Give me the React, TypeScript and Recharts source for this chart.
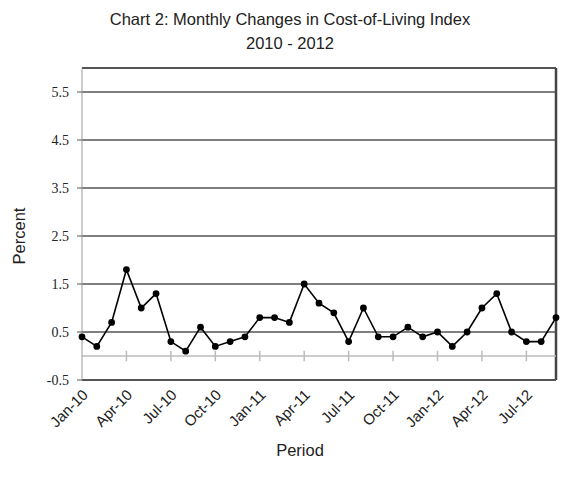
import { LineChart, Line, XAxis, YAxis, CartesianGrid, ReferenceLine } from 'recharts';

const months = [
  'Jan-10', 'Feb-10', 'Mar-10', 'Apr-10', 'May-10', 'Jun-10', 'Jul-10', 'Aug-10', 'Sep-10', 'Oct-10', 'Nov-10', 'Dec-10',
  'Jan-11', 'Feb-11', 'Mar-11', 'Apr-11', 'May-11', 'Jun-11', 'Jul-11', 'Aug-11', 'Sep-11', 'Oct-11', 'Nov-11', 'Dec-11',
  'Jan-12', 'Feb-12', 'Mar-12', 'Apr-12', 'May-12', 'Jun-12', 'Jul-12', 'Aug-12', 'Sep-12',
];

const changes = [
  0.4, 0.2, 0.7, 1.8, 1.0, 1.3, 0.3, 0.1, 0.6, 0.2, 0.3, 0.4,
  0.8, 0.8, 0.7, 1.5, 1.1, 0.9, 0.3, 1.0, 0.4, 0.4, 0.6, 0.4,
  0.5, 0.2, 0.5, 1.0, 1.3, 0.5, 0.3, 0.3, 0.8,
];

const yTicks = [-0.5, 0.5, 1.5, 2.5, 3.5, 4.5, 5.5];
const labelMonths = ['Jan-10', 'Apr-10', 'Jul-10', 'Oct-10', 'Jan-11', 'Apr-11', 'Jul-11', 'Oct-11', 'Jan-12', 'Apr-12', 'Jul-12'];

const data = months.map((m, i) => ({ month: m, value: changes[i] }));

const sans = '"Liberation Sans", Arial, sans-serif';

const XTick = (props: any) => {
  const { x, y, payload } = props;
  return (
    <text
      x={0}
      y={0}
      transform={`translate(${x + 4},${y + 5}) rotate(-45)`}
      textAnchor="end"
      dominantBaseline="middle"
      fontFamily={sans}
      fontSize={15}
      fill="#222"
    >
      {payload.value}
    </text>
  );
};

export default function App() {
  return (
    <div style={{ position: 'absolute', left: 0, top: 0, width: 563, height: 477, background: '#fff' }}>
      <div style={{ position: 'absolute', left: 0, top: 7, width: 580, textAlign: 'center', fontFamily: sans, fontSize: 16.5, lineHeight: '24px', color: '#222' }}>
        Chart 2: Monthly Changes in Cost-of-Living Index
        <br />
        2010 - 2012
      </div>
      <div style={{ position: 'absolute', left: 300, top: 441, transform: 'translateX(-50%)', fontFamily: sans, fontSize: 16.5, color: '#222' }}>
        Period
      </div>
      <div style={{ position: 'absolute', left: 19, top: 236, transform: 'translate(-50%,-50%) rotate(-90deg)', fontFamily: sans, fontSize: 16.5, color: '#222' }}>
        Percent
      </div>
      <LineChart width={563} height={477} data={data} margin={{ top: 68, right: 7, left: 22, bottom: 37 }}>
        <CartesianGrid horizontal vertical={false} stroke="#555" strokeWidth={1.5} />
        <ReferenceLine y={6} stroke="#555" strokeWidth={2} />
        <ReferenceLine x="Sep-12" stroke="#444" strokeWidth={2.5} />
        <ReferenceLine y={0} stroke="#bbb" strokeWidth={1.5} />
        {labelMonths.slice(1).map((m) => (
          <ReferenceLine
            key={m}
            segment={[{ x: m, y: -0.11 }, { x: m, y: 0.11 }]}
            stroke="#bbb"
            strokeWidth={1.5}
          />
        ))}
        <XAxis
          dataKey="month"
          interval={2}
          tick={<XTick />}
          tickLine={false}
          axisLine={{ stroke: '#555', strokeWidth: 2 }}
          height={60}
        />
        <YAxis
          domain={[-0.5, 6]}
          ticks={yTicks}
          tickFormatter={(v: number) => v.toFixed(1)}
          width={60}
          tickSize={5}
          tickMargin={8}
          axisLine={{ stroke: '#999' }}
          tickLine={{ stroke: '#555' }}
          tick={{ fontFamily: '"Liberation Serif", serif', fontSize: 14, fill: '#222' }}
        />
        <Line
          dataKey="value"
          stroke="#000"
          strokeWidth={1.6}
          dot={{ r: 2.6, fill: '#000', stroke: '#000' }}
          isAnimationActive={false}
        />
      </LineChart>
    </div>
  );
}
